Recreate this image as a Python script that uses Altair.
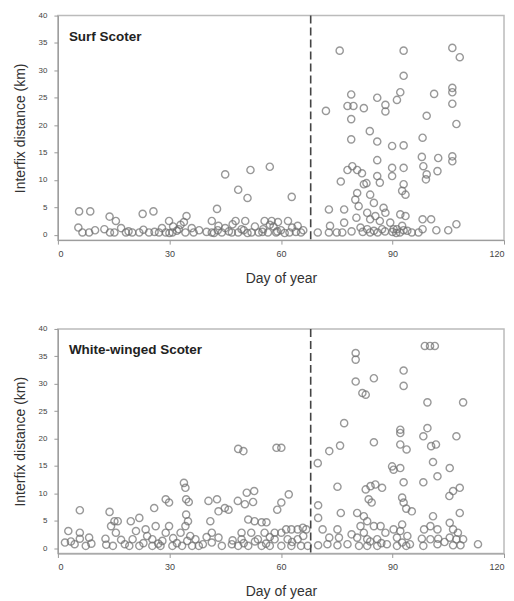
import altair as alt
import pandas as pd

# Surf Scoter: day of year, interfix distance (km)
surf_day = [5.7, 8.7, 5.5, 6.6, 8.4, 13.9, 15.6, 12.5, 15.2, 18.3, 20, 22.8, 25.7, 21.9, 24.5, 27.2, 29,
            29.9, 32.5, 33.9, 34.6, 34.3, 30.8, 36.5, 45, 42.8, 41.4, 43.2, 41.4, 44.1, 46.8, 48.5, 51,
            51.8, 57, 47.8, 50.4, 49.4, 52.1, 48.5, 55.6, 57.5, 59.2, 55.2, 56.5, 58.7, 62.9, 61.9, 64.5,
            62.3, 65.4, 10, 17, 23, 28, 31, 36, 38, 43, 45, 50, 53, 54, 58, 60, 63, 66,
            14, 19, 26, 30, 32, 33, 40, 42, 46, 47, 51, 55, 57, 59, 61, 64,
            69.9, 72.1, 72.9, 73.2, 72.9, 75.8, 76.1, 77, 77, 76.5, 77.9, 78.9, 79.5, 78.9, 78.9, 77.9,
            79.2, 80.5, 81.8, 82.3, 80.5, 80, 80.9, 80.3, 81.4, 82.3, 83.9, 83, 84, 85, 83.2, 84, 83.2,
            85.9, 85.9, 85.9, 85.9, 86.6, 85.4, 86.6, 87.2, 88.1, 88.1, 87.6, 88.1, 89.9, 89.9, 89.9,
            90.3, 89.4, 91.2, 92.1, 93, 93, 93, 93, 93, 92.6, 93.5, 92.1, 93.5, 92.6, 91.2, 94, 95.2,
            98.1, 97.9, 98.3, 99.2, 99, 99.2, 98.1, 98.1, 100.4, 101.2, 102.3, 102.1, 101.8, 105, 106.1,
            106.1, 106.1, 106.1, 106.1, 106.1, 107.2, 107.2, 108.1, 75, 79, 84, 86, 88, 92, 97,
            82, 85, 90, 91, 93]
surf_dist = [4.25, 4.25, 1.3, 0.4, 0.4, 3.3, 2.5, 1.0, 0.4, 0.4, 0.4, 3.8, 4.25, 0.4, 0.4, 0.4, 0.4,
             2.5, 1.0, 2.3, 3.4, 0.4, 0.4, 0.4, 11, 4.7, 2.5, 1.6, 0.4, 0.4, 0.4, 8.2, 6.7,
             11.8, 12.4, 2.5, 2.5, 1.0, 0.4, 0.4, 2.5, 2.5, 2.3, 1.0, 0.4, 0.4, 6.9, 2.5, 1.6,
             0.4, 0.4, 0.8, 1.2, 0.9, 1.2, 1.5, 1.2, 0.8, 0.8, 1.2, 0.8, 1.5, 0.4, 1.5, 0.8, 1.3, 0.8,
             0.4, 0.6, 0.5, 0.3, 0.7, 1.8, 0.5, 0.3, 0.6, 1.9, 0.3, 0.5, 1.8, 0.6, 0.3, 0.5,
             0.4, 22.6, 4.6, 1.6, 0.4, 33.6, 9.7, 4.6, 2.2, 0.4, 23.5, 25.6, 23.5, 21.1, 17.4, 11.8,
             12.5, 11.8, 11.2, 9.2, 7.6, 6.4, 5.2, 3.1, 1.3, 23.1, 18.9, 9.4, 7.3, 5.8, 4.0, 2.8, 1.0,
             25, 17, 13.6, 10.7, 9.5, 3.4, 2.5, 1.0, 23.7, 22.5, 4.9, 4.0, 16.2, 12.2, 10.7,
             1.0, 2.2, 24.6, 26, 33.6, 29, 16.3, 12.2, 9.2, 8.0, 7.3, 3.7, 3.4, 1.6, 1.0, 0.7, 0.4,
             17.7, 14.2, 12.5, 11, 10.1, 21.7, 2.8, 1.0, 2.8, 25.7, 14, 11.6, 0.8, 0.8, 34.1,
             26.8, 26, 23.9, 14.3, 13.4, 20.2, 1.9, 32.4, 0.4, 0.6, 0.4, 0.4, 0.6, 0.4, 0.4,
             0.5, 0.7, 0.5, 0.3, 0.8]

# White-winged Scoter
wws_day = [2.8, 1.9, 4.5, 5.9, 5.9, 5.9, 7.5, 8.4, 12.8, 13.9, 14.3, 15.2, 15.6, 14.8, 16.1, 19.6,
           21.9, 21, 20.1, 19.2, 21.9, 23.6, 25.9, 26.3, 25.4, 25.4, 29, 29.9, 29.9, 29, 28.1, 27.6,
           30.8, 33.9, 34.3, 34.5, 35.2, 34.5, 35, 34.3, 33, 35.6, 34.8, 36.1, 33.4, 37.9, 40.5, 42.8,
           43.2, 44.9, 45.9, 41, 41.4, 43.2, 41.4, 44.1, 46.8, 48.5, 49.9, 48.4, 50.3, 50.8, 52.8, 52.5,
           51.2, 52.9, 54.8, 56.1, 49.4, 49.4, 52, 53.8, 55.6, 48.5, 51.2, 54.8, 57, 58.8, 60.1, 59,
           60.1, 62.1, 58.3, 60.1, 61.4, 62.8, 64.5, 65.9, 58.3, 61.8, 64.5, 60.1, 62.8, 65.4, 67.2,
           66.8, 3.5, 9, 13, 17, 18, 23, 24, 27, 31, 32, 37, 39, 40, 47, 50, 53, 56, 57, 63, 66,
           69.9, 70, 70, 70, 71.2, 73, 75.9, 75.2, 77, 73, 72.5, 75.2, 75.6, 76.1, 75.2, 77.9, 80.1,
           80.1, 80.1, 81.9, 82.8, 85, 85, 82.8, 84.1, 85.4, 87.2, 83.6, 84.4, 80.5, 82.3, 83.2, 81.4,
           82.3, 85, 86.8, 88.1, 80.5, 83.2, 85.9, 81, 83.2, 85.9, 88.5, 89.9, 90.3, 92.1, 92.1, 92.1,
           92.1, 93.8, 93, 93, 93, 92.6, 93, 93.7, 95.2, 92.6, 92.1, 90.3, 91.2, 92.6, 94.7, 91.2,
           93.7, 98.3, 98.3, 99.4, 99.4, 98.7, 100.1, 101.4, 100.9, 100.4, 101.7, 102.1, 100.9, 98.5,
           100.2, 102.1, 97.9, 100.2, 102.3, 98.3, 102.1, 105.4, 107.2, 109, 105.3, 106.3, 108.1,
           108.1, 105.4, 106.3, 107.6, 105.4, 107.2, 109, 106.3, 108.3, 113, 79, 84, 87, 94, 104]
wws_dist = [3.1, 1.0, 0.7, 6.9, 2.8, 1.7, 0.4, 1.9, 1.7, 6.6, 4.0, 4.9, 2.8, 0.4, 4.9, 4.9,
            5.5, 3.1, 1.6, 0.4, 0.4, 3.4, 7.3, 4.0, 1.6, 0.4, 8.9, 8.3, 4.0, 2.8, 1.3, 0.4,
            0.4, 11.9, 11.0, 8.9, 8.4, 6.1, 4.9, 4.0, 2.8, 2.2, 1.3, 0.4, 0.4, 0.4, 8.6, 8.9,
            6.7, 7.3, 7.0, 4.9, 2.8, 1.9, 1.0, 0.4, 0.7, 18.1, 17.7, 8.6, 8.0, 10.1, 10.4, 8.4,
            5.2, 4.9, 4.7, 4.7, 2.8, 1.6, 2.8, 1.6, 2.8, 0.4, 0.4, 0.4, 0.4, 18.3, 18.3, 7.0,
            8.3, 9.8, 2.8, 2.8, 3.4, 3.4, 3.4, 3.7, 1.6, 1.6, 1.6, 0.4, 0.4, 0.4, 0.4,
            3.4, 1.2, 0.8, 0.6, 1.5, 0.7, 0.9, 2.2, 0.8, 1.8, 0.9, 1.6, 0.7, 2.0, 1.4, 0.9, 1.2,
            0.8, 2.0, 1.1, 2.2,
            15.5, 7.8, 5.5, 0.5, 3.4, 17.7, 18.7, 11.2, 22.8, 1.9, 0.7, 3.4, 1.9, 6.4, 0.5, 0.7, 35.6,
            34.4, 30.4, 28.3, 28, 31, 19.3, 10.7, 11.3, 11.6, 11, 8.9, 8.3, 6.4, 5.8, 4.9, 4.0,
            2.8, 4.0, 4.0, 2.8, 1.9, 1.6, 1.6, 0.4, 0.4, 0.4, 0.7, 14.9, 14.3, 14.6, 21.6, 21,
            18.9, 18, 32.4, 29.6, 12, 9.2, 8.3, 7.2, 6.7, 4.3, 3.1, 3.4, 1.9, 1.0, 0.7, 0.4,
            0.4, 12, 20.4, 21.9, 26.6, 36.9, 36.9, 36.9, 15.7, 18.6, 18.9, 13.1, 5.8, 3.4,
            4.0, 3.4, 1.7, 1.6, 1.7, 0.4, 0.7, 14.6, 20.4, 26.6, 9.5, 10.4, 11,
            6.4, 4.6, 3.4, 2.8, 1.9, 1.6, 1.6, 0.5, 0.5, 0.7, 2.5, 1.2, 0.9, 2.2, 1.1]

divider_day = [68]
x_ticks = [0, 30, 60, 90, 120]
y_ticks = [0, 5, 10, 15, 20, 25, 30, 35, 40]

FONT = "Liberation Sans"


def panel(days, dists, label):
    df = pd.DataFrame({"day": days, "dist": dists})
    x = alt.X("day:Q", title="Day of year",
              scale=alt.Scale(domain=[0, 120], nice=False, zero=False),
              axis=alt.Axis(values=x_ticks, grid=False, tickSize=4, labelPadding=5,
                            titlePadding=13, labelFontSize=9, titleFontSize=14,
                            domainColor="#999999", tickColor="#999999",
                            labelColor="#444444", titleColor="#333333",
                            titleFontWeight="normal", labelFont=FONT, titleFont=FONT))
    y = alt.Y("dist:Q", title="Interfix distance (km)",
              scale=alt.Scale(domain=[-1, 40], nice=False, zero=False),
              axis=alt.Axis(values=y_ticks, grid=False, tickSize=4, labelPadding=7,
                            titlePadding=11, labelFontSize=8, titleFontSize=14,
                            domainColor="#999999", tickColor="#999999",
                            labelColor="#444444", titleColor="#333333",
                            titleFontWeight="normal", labelFont=FONT, titleFont=FONT))
    pts = alt.Chart(df).mark_point(shape="circle", filled=False, size=52,
                                   stroke="#6e6e6e", strokeWidth=1.4).encode(x=x, y=y)
    rule = alt.Chart(pd.DataFrame({"day": divider_day})).mark_rule(
        color="#444444", strokeWidth=1.6, strokeDash=[8, 4]).encode(x="day:Q")
    txt = alt.Chart(pd.DataFrame({"t": [label]})).mark_text(
        align="left", baseline="middle", font=FONT, fontSize=13.5, fontWeight="bold",
        color="#222222").encode(text="t:N", x=alt.value(11), y=alt.value(21))
    return alt.layer(pts, rule, txt).properties(width=447, height=225)


top = panel(surf_day, surf_dist, "Surf Scoter")
bottom = panel(wws_day, wws_dist, "White-winged Scoter")

chart = alt.vconcat(top, bottom, spacing=38).properties(
    padding={"left": 4, "top": 2, "right": 0, "bottom": 0}
).configure_view(stroke="#bbbbbb", strokeWidth=1.5)

chart.save("out.html", embed_options={"renderer": "svg", "actions": False})
